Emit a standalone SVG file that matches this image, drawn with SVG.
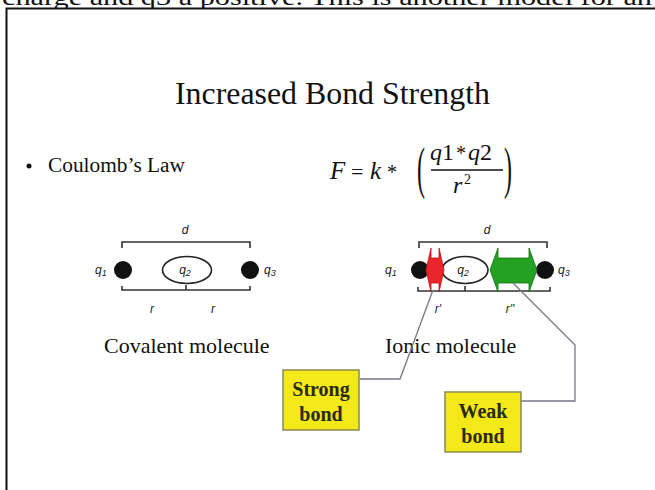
<svg xmlns="http://www.w3.org/2000/svg" width="655" height="490" viewBox="0 0 655 490">
<style>
.serif{font-family:"Liberation Serif","Times New Roman",serif;fill:#111}
.lab{font-family:"Liberation Sans",Arial,sans-serif;font-style:italic;font-size:12px;fill:#222}
.br{fill:none;stroke:#333;stroke-width:1.6}
.callout{fill:none;stroke:#778;stroke-width:1.3}
.box{fill:#f3e81a;stroke:#8a8a50;stroke-width:1.5}
.boxt{font-family:"Liberation Serif","Times New Roman",serif;font-size:20px;font-weight:bold;fill:#2a2a10;text-anchor:middle}
</style>
<rect x="0" y="0" width="655" height="490" fill="#fff"/>
<text class="serif" x="2" y="5" font-size="24" textLength="650" lengthAdjust="spacingAndGlyphs">charge and q3 a positive. This is another model for an</text>
<rect x="6.5" y="8.5" width="660" height="500" fill="#fff" stroke="#111" stroke-width="2"/>

<g id="title"><text class="serif" x="175" y="104" font-size="31" textLength="315" lengthAdjust="spacingAndGlyphs">Increased Bond Strength</text></g>
<g id="bullet"><circle cx="29" cy="166" r="2.5" fill="#111"/><text class="serif" x="48" y="172" font-size="20" textLength="137" lengthAdjust="spacingAndGlyphs">Coulomb’s Law</text></g>
<g id="formula">
<text class="serif" x="330" y="179" font-size="25" font-style="italic">F</text>
<text class="serif" x="351" y="179" font-size="22">=</text>
<text class="serif" x="370" y="179" font-size="25" font-style="italic">k</text>
<text class="serif" x="387" y="179" font-size="20">*</text>
<text class="serif" x="417" y="179" font-size="30" transform="translate(417 170) scale(0.8 1.9) translate(-417 -170)">(</text>
<text class="serif" x="504" y="179" font-size="30" transform="translate(504 170) scale(0.8 1.9) translate(-504 -170)">)</text>
<text class="serif" x="430" y="160" font-size="24"><tspan font-style="italic">q</tspan>1<tspan dx="2" font-size="20">*</tspan><tspan dx="2" font-style="italic">q</tspan>2</text>
<line x1="431" y1="170" x2="503" y2="170" stroke="#111" stroke-width="1.3"/>
<text class="serif" x="453" y="193" font-size="24" font-style="italic">r</text>
<text class="serif" x="464" y="184" font-size="14">2</text>
</g>

<g id="covalent">
<text class="lab" x="185" y="234" text-anchor="middle">d</text>
<path class="br" d="M122 248V242H250V248"/>
<circle cx="123" cy="270" r="9" fill="#111"/>
<circle cx="250" cy="270" r="9" fill="#111"/>
<ellipse cx="187" cy="270" rx="24.5" ry="13.5" fill="#fff" stroke="#222" stroke-width="1.6"/>
<text class="lab" x="185" y="274" text-anchor="middle">q<tspan font-size="9" dy="2">2</tspan></text>
<text class="lab" x="95" y="274">q<tspan font-size="9" dy="2">1</tspan></text>
<text class="lab" x="264" y="274">q<tspan font-size="9" dy="2">3</tspan></text>
<path class="br" d="M122 286V290H250V286M186 290V285"/>
<text class="lab" x="152" y="313" text-anchor="middle">r</text>
<text class="lab" x="213" y="313" text-anchor="middle">r</text>
<text class="serif" x="104" y="353" font-size="22">Covalent molecule</text>
</g>

<g id="ionic">
<text class="lab" x="487" y="234" text-anchor="middle">d</text>
<path class="br" d="M419 248V242H547V248"/>
<path class="br" d="M418 287V291H550V287M465 291V286"/>
<circle cx="420" cy="270" r="9" fill="#111"/>
<circle cx="545" cy="270" r="9" fill="#111"/>
<ellipse cx="465" cy="270" rx="23" ry="13.5" fill="#fff" stroke="#222" stroke-width="1.6"/>
<polygon points="426,270 431,248 431,258 439,258 439,248 444,270 439,292 439,283 431,283 431,292" fill="#e8262b" stroke="#c01010" stroke-width="0.8"/>
<polygon points="490,270 498,248 498,258 529,258 529,248 537,270 529,292 529,283 498,283 498,292" fill="#22a122" stroke="#137013" stroke-width="0.8"/>
<text class="lab" x="463" y="274" text-anchor="middle">q<tspan font-size="9" dy="2">2</tspan></text>
<text class="lab" x="385" y="274">q<tspan font-size="9" dy="2">1</tspan></text>
<text class="lab" x="558" y="274">q<tspan font-size="9" dy="2">3</tspan></text>
<text class="lab" x="438" y="313" text-anchor="middle">r'</text>
<text class="lab" x="510" y="313" text-anchor="middle">r''</text>
<text class="serif" x="385" y="353" font-size="22">Ionic molecule</text>
</g>

<g id="connectors">
<polyline class="callout" points="433,290 400,379 360,379"/>
<polyline class="callout" points="513,283 575,345 575,401 521,401"/>
</g>

<g id="strong">
<rect class="box" x="283" y="370" width="76" height="60"/>
<text class="boxt" x="321" y="396">Strong</text>
<text class="boxt" x="321" y="421">bond</text>
</g>
<g id="weak">
<rect class="box" x="445" y="392" width="76" height="60"/>
<text class="boxt" x="483" y="418">Weak</text>
<text class="boxt" x="483" y="443">bond</text>
</g>
</svg>
